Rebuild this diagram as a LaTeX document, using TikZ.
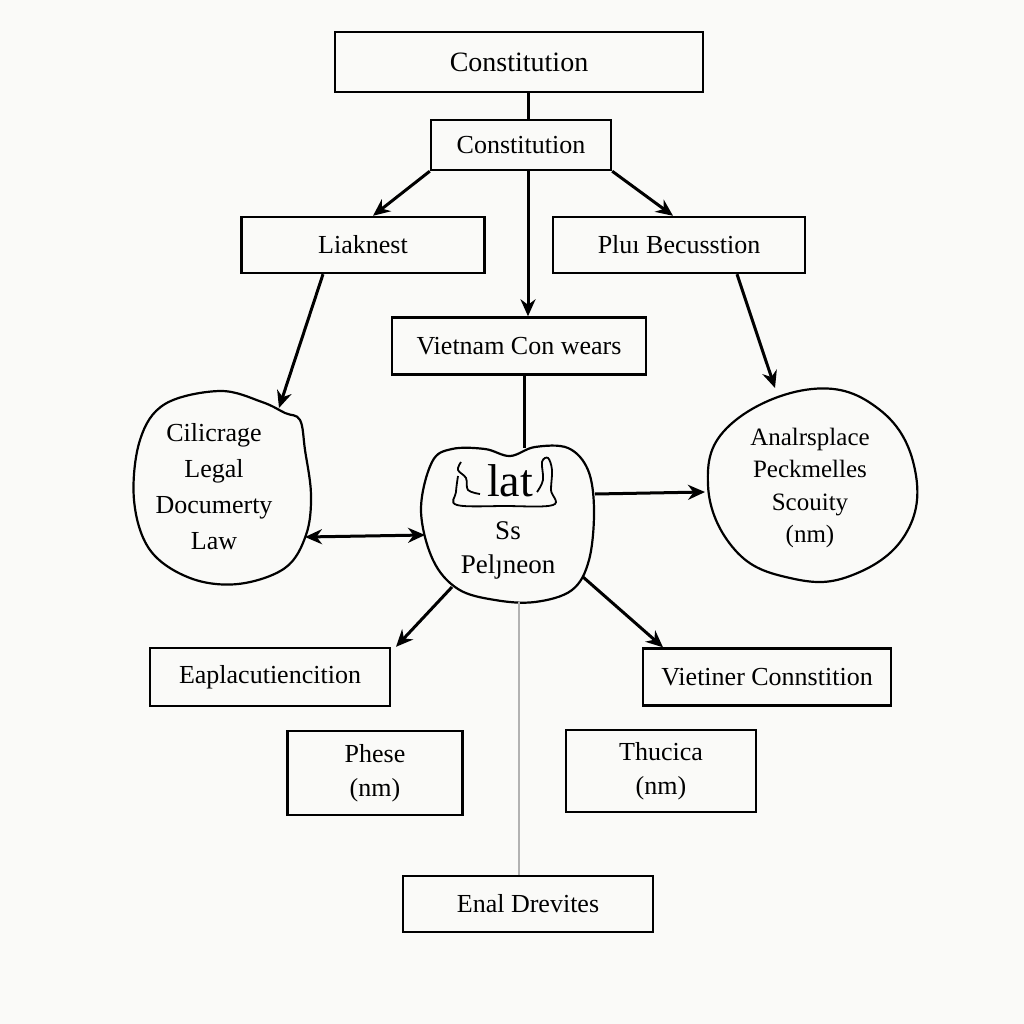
\documentclass[tikz,border=0pt]{standalone}
\usepackage{fontspec}
\setmainfont{Liberation Serif}
\usetikzlibrary{arrows.meta}
\definecolor{bgc}{RGB}{250,250,248}
\begin{document}
\begin{tikzpicture}[x=1pt,y=-1pt,
  box/.style={draw,line width=2.4pt,rectangle,inner sep=0pt,align=center,font=\fontsize{26}{34}\selectfont},
  arr/.style={line width=3pt,-{Stealth[length=17pt,width=15pt]}},
  dbl/.style={line width=3pt,{Stealth[length=17pt,width=15pt]}-{Stealth[length=17pt,width=15pt]}},
  ln/.style={line width=3pt},
  blobline/.style={line width=2.2pt},
  blobtxt/.style={align=center,inner sep=0pt}]
\fill[bgc] (0,0) rectangle (1024,1024);
\useasboundingbox (0,0) rectangle (1024,1024);

% boxes
\node[box,minimum width=368pt,minimum height=60pt,font=\fontsize{28}{34}\selectfont] (c1) at (519,62) {Constitution};
\node[box,minimum width=180pt,minimum height=50pt] (c2) at (521,145) {Constitution};
\node[box,minimum width=243pt,minimum height=56pt] (lk) at (363,245) {Liaknest};
\node[box,minimum width=252pt,minimum height=56pt] (pb) at (679,245) {Pluı Becusstion};
\node[box,minimum width=254pt,minimum height=57pt] (vc) at (519,346) {Vietnam Con wears};
\node[box,minimum width=240pt,minimum height=58pt] (ea) at (270,677) {Eaplacutiencition};
\node[box,minimum width=248pt,minimum height=57pt] (vt) at (767,677) {Vietiner Connstition};
\node[box,minimum width=175pt,minimum height=84pt] (ph) at (375,773) {Phese\\(nm)};
\node[box,minimum width=190pt,minimum height=82pt] (th) at (661,771) {Thucica\\(nm)};
\node[box,minimum width=250pt,minimum height=56pt] (en) at (528,904) {Enal Drevites};

% left blob
\draw[blobline] plot[smooth cycle,tension=0.6] coordinates {(165,404)(220,391)(262,402)(285,413)(300,420)(305,450)(311,495)(306,535)(285,568)(238,584)(190,578)(150,550)(134,500)(140,440)};
\node[blobtxt,font=\fontsize{26}{36}\selectfont] (lb) at (214,487) {Cilicrage\\Legal\\Documerty\\Law};

% right circle
\draw[blobline] plot[smooth cycle,tension=0.7] coordinates {(812,389)(880,410)(915,470)(905,535)(850,576)(790,578)(735,550)(708,485)(730,425)};
\node[blobtxt,font=\fontsize{25}{32.5}\selectfont] (rc) at (810,488) {Analrsplace\\Peckmelles\\Scouity\\(nm)};

% center blob
\draw[blobline] plot[smooth cycle,tension=0.6] coordinates {(432,462)(452,449)(485,449)(510,456)(535,447)(568,448)(588,470)(594,510)(589,560)(572,590)(535,602)(495,600)(458,589)(433,560)(421,510)};
\node[inner sep=0pt,font=\fontsize{46}{46}\selectfont] (lat) at (510,481) {lat};
\draw[line width=1.8pt] plot[smooth,tension=0.6] coordinates {(461,462)(458,470)(466,478)(468,490)(480,494)};
\draw[line width=1.8pt] plot[smooth,tension=0.6] coordinates {(458,476)(456,492)(457,505)(505,506)(553,505)(551,490)(552,470)(548,458)(542,462)(543,480)(537,492)};
\node[blobtxt,font=\fontsize{27}{34}\selectfont] (cb) at (508,550) {Ss\\Pelȷneon};

% anchor coordinates on blobs
\coordinate (lbtop) at (279,408);
\coordinate (lbright) at (305,537);
\coordinate (cbleft) at (425,535);
\coordinate (cbtop) at (524,448);
\coordinate (cbright) at (595,494);
\coordinate (cbbl) at (452,587);
\coordinate (cbbr) at (583,577);
\coordinate (cbbot) at (519,602);
\coordinate (rctop) at (775,388);
\coordinate (rcleft) at (705,492);

% connectors
\draw[ln] (c1.south -| 528,0) -- (c2.north -| 528,0);
\draw[arr] (c2.south west) -- (lk.north -| 373,0);
\draw[arr] (c2.south east) -- (pb.north -| 673,0);
\draw[arr] (c2.south -| 528,0) -- (vc.north -| 528,0);
\draw[ln] (vc.south -| 524,0) -- (cbtop);
\draw[arr] (lk.south -| 323,0) -- (lbtop);
\draw[arr] (pb.south -| 737,0) -- (rctop);
\draw[dbl] (lbright) -- (cbleft);
\draw[arr] (cbright) -- (rcleft);
\draw[arr] (cbbl) -- (ea.north -| 396,0);
\draw[arr] (cbbr) -- (vt.north -| 663,0);
\draw[gray!60,line width=1.2pt] (cbbot) -- (en.north -| 519,0);
\end{tikzpicture}
\end{document}
